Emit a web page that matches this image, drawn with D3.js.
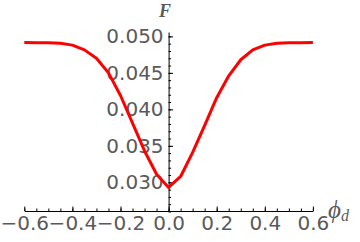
<!DOCTYPE html>
<html>
<head>
<meta charset="utf-8">
<script src="https://cdn.jsdelivr.net/npm/d3@7"></script>
<style>
  body { margin: 0; background: #fff; }
  svg { display: block; }
  .tick text { font-family: "DejaVu Sans", sans-serif; font-size: 20px; fill: #5a5a5a; }
  .domain, .tick line { stroke: #000; stroke-width: 1; }
</style>
</head>
<body>
<svg id="chart" width="360" height="242"></svg>
<script>
// phi_d sampled every 0.05
const phi = [-0.6, -0.55, -0.5, -0.45, -0.4, -0.35, -0.3, -0.25, -0.2, -0.15, -0.1, -0.05, 0,
             0.05, 0.1, 0.15, 0.2, 0.25, 0.3, 0.35, 0.4, 0.45, 0.5, 0.55, 0.6];
const F = [0.04915, 0.04914, 0.04912, 0.04905, 0.04880, 0.04815, 0.04700, 0.04500, 0.04190, 0.03810, 0.03430, 0.03110, 0.02930,
           0.03080, 0.03410, 0.03780, 0.04160, 0.04460, 0.04680, 0.04815, 0.04880, 0.04905, 0.04912, 0.04914, 0.04915];

const xMajor = [-0.6, -0.4, -0.2, 0, 0.2, 0.4, 0.6];
const xMinor = d3.range(-12, 13).map(i => i * 0.05);
const yMajor = [0.030, 0.035, 0.040, 0.045, 0.050];
const yMinor = d3.range(26, 51).map(i => i / 1000);

const svg = d3.select("#chart");

const x = d3.scaleLinear().domain([-0.6, 0.6]).range([24.3, 312.9]);
const y = d3.scaleLinear().domain([0.02607, 0.0506]).range([211, 32]);

const fmtX = d => (d < 0 ? "\u2212" : "") + Math.abs(d).toFixed(1);

// x axis: ticks point up
const gx = svg.append("g").attr("transform", `translate(0,${y.range()[0]})`);
gx.append("g")
    .call(d3.axisBottom(x).tickValues(xMinor).tickSize(-2.5).tickSizeOuter(0).tickFormat(""));
gx.append("g")
    .call(d3.axisBottom(x).tickValues(xMajor).tickSize(-4.5).tickSizeOuter(0).tickPadding(5).tickFormat(fmtX))
    .call(g => g.select(".domain").remove());

// y axis at phi = 0: ticks point right
const gy = svg.append("g").attr("transform", `translate(${x(0)},0)`);
gy.append("g")
    .call(d3.axisLeft(y).tickValues(yMinor).tickSize(-2.5).tickSizeOuter(0).tickFormat(""));
gy.append("g")
    .call(d3.axisLeft(y).tickValues(yMajor).tickSize(-4.5).tickSizeOuter(0).tickPadding(5).tickFormat(d3.format(".3f")))
    .call(g => g.select(".domain").remove());

// curve
const line = d3.line().x((d, i) => x(phi[i])).y(d => y(d));
svg.append("path")
    .datum(F)
    .attr("d", line)
    .attr("fill", "none")
    .attr("stroke", "#ff0000")
    .attr("stroke-width", 3)
    .attr("stroke-linejoin", "round");

// axis labels
svg.append("text")
    .attr("x", 165).attr("y", 16.5)
    .attr("text-anchor", "middle")
    .attr("font-family", "Liberation Serif, serif")
    .attr("font-style", "italic")
    .attr("font-weight", "bold")
    .attr("font-size", 18)
    .attr("fill", "#5a5a5a")
    .text("F");

const lab = svg.append("text")
    .attr("x", 328).attr("y", 218)
    .attr("font-family", "Liberation Serif, serif")
    .attr("font-style", "italic")
    .attr("fill", "#5a5a5a");
lab.append("tspan").attr("font-size", 25).text("\u03d5");
lab.append("tspan").attr("font-size", 16).attr("dy", 3).text("d");
</script>
</body>
</html>
